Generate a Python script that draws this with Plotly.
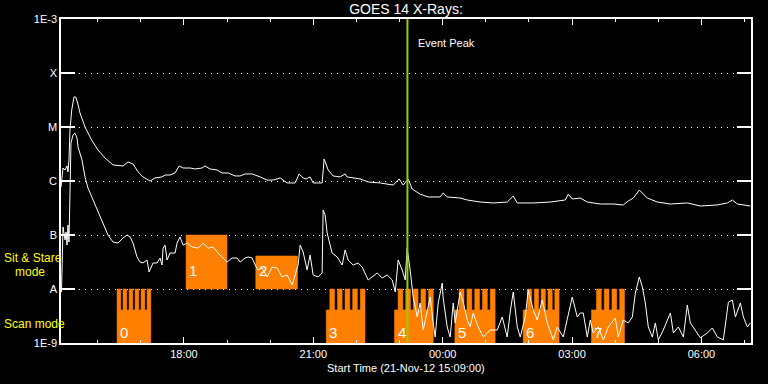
import numpy as np
import pandas as pd
import plotly.graph_objects as go

START = pd.Timestamp("2012-11-21 15:09:00")
DURATION_MIN = 960

# ---- GOES long channel (1-8 A): minutes since start, flux W/m^2
long_min = [0, 1.4, 2.8, 5.6, 8.4, 9.7, 11.1, 12.5, 14.9, 18.1, 20.5, 23.2, 26.4, 33.4, 42.7, 51.5,
            61.2, 72.4, 86.3, 93.3, 100.2, 107.2, 114.1, 123.9, 130.8, 140.6, 144.8, 151.7, 158.7,
            164.3, 169.8, 179.6, 186.5, 196.3, 200.4, 207.4, 217.2, 224.1, 232.5, 242.2, 249.2,
            256.1, 265.9, 277, 286.8, 295.1, 304.9, 314.6, 325.7, 331.3, 336.9, 341, 346.6, 350.8,
            363.3, 366.1, 371.7, 378.6, 388.4, 395.3, 398.1, 416.2, 427.4, 444.1, 462.2, 470.5,
            476.1, 483, 488.6, 499.7, 510.9, 527.6, 531.7, 537.3, 555.4, 565.2, 583.2, 601.3,
            620.8, 629.2, 634.8, 657, 680.7, 701.6, 705.8, 711.3, 722.5, 732.2, 750.3, 768.4,
            782.3, 789.3, 796.3, 804.6, 815.7, 829.7, 847.8, 871.4, 889.5, 913.2, 927.1, 934.1,
            941, 959.1]
long_flux = [7.7e-7, 1.04e-6, 1.74e-6, 1.6e-6, 1.9e-6, 1.47e-6, 2.45e-6, 8.8e-6, 2.06e-5, 3.6e-5,
             3.6e-5, 2.78e-5, 1.82e-5, 1.0e-5, 5.7e-6, 3.75e-6, 2.67e-6, 1.98e-6, 1.9e-6, 2.25e-6,
             2.07e-6, 1.47e-6, 1.19e-6, 1.0e-6, 1.14e-6, 1.19e-6, 1.29e-6, 1.29e-6, 1.41e-6, 1.9e-6,
             1.74e-6, 1.74e-6, 1.67e-6, 1.74e-6, 1.9e-6, 1.67e-6, 1.6e-6, 1.41e-6, 1.41e-6, 1.24e-6,
             1.24e-6, 1.35e-6, 1.35e-6, 1.19e-6, 1.04e-6, 1.04e-6, 1.14e-6, 9.2e-7, 9.2e-7, 1.35e-6,
             1.14e-6, 1.09e-6, 1.19e-6, 9.2e-7, 9.2e-7, 2.55e-6, 1.6e-6, 1.24e-6, 1.19e-6, 1.35e-6,
             1.19e-6, 1.09e-6, 9.6e-7, 9.2e-7, 8.4e-7, 1.09e-6, 8.4e-7, 1.09e-6, 7.1e-7, 5.7e-7,
             5.06e-7, 5.06e-7, 6.0e-7, 5.06e-7, 4.84e-7, 4.45e-7, 4.08e-7, 3.92e-7, 4.08e-7, 5.27e-7,
             3.92e-7, 3.92e-7, 4.08e-7, 4.45e-7, 5.7e-7, 4.64e-7, 4.84e-7, 4.08e-7, 3.75e-7, 3.75e-7,
             3.6e-7, 4.27e-7, 4.84e-7, 6.8e-7, 4.84e-7, 4.08e-7, 3.75e-7, 3.92e-7, 3.44e-7, 3.6e-7,
             3.92e-7, 4.45e-7, 3.75e-7, 3.44e-7]

# ---- GOES short channel (0.5-4 A)
short_min = [0.7, 1.4, 2.8, 5.6, 7.0, 8.4, 9.7, 11.1, 12.5, 13.9, 16.7, 19.5, 22.3, 23.7, 29.2,
             33.4, 37.6, 44.5, 51.5, 58.5, 65.4, 72.4, 79.3, 86.3, 91.9, 96.1, 100.2, 105.8, 110,
             114.1, 119.7, 122.5, 128.1, 133.6, 137.8, 140.6, 142, 144.8, 147.6, 151.7, 158.7,
             161.5, 165.6, 169.8, 175.4, 182.4, 190.7, 197.7, 204.6, 211.6, 217.2, 224.1, 231.1,
             238, 245, 249.2, 256.1, 260.3, 265.9, 270.1, 274.2, 279.8, 286.8, 293.7, 300.7, 307.6,
             314.6, 321.6, 325.7, 329.9, 332.7, 336.9, 342.4, 346.6, 350.8, 357.8, 363.3, 364.7,
             367.5, 370.3, 377.2, 384.2, 391.2, 395.3, 399.5, 406.5, 413.4, 419, 427.4, 432.9,
             439.9, 446.9, 453.8, 460.8, 465, 469.1, 474.7, 478.9, 481.6, 485.8, 490, 495.6, 499.7,
             503.9, 509.5, 513.7, 517.8, 520.6, 524.8, 530.4, 531.7, 537.3, 541.5, 545.7, 548.4,
             555.4, 559.6, 565.2, 569.3, 573.5, 580.5, 587.5, 597.2, 606.9, 613.9, 620.8, 625,
             629.2, 634.8, 639, 645.9, 650.1, 657, 662.6, 669.6, 676.5, 684.9, 690.4, 698.8, 705.8,
             711.3, 718.3, 722.5, 726.6, 732.2, 736.4, 740.5, 747.5, 754.5, 761.5, 771.2, 775.4,
             782.3, 789.3, 794.9, 799.1, 804.6, 808.8, 813, 817.1, 822.7, 826.9, 831.1, 838, 847.8,
             852, 858.9, 865.9, 871.4, 875.6, 882.5, 889.5, 899.3, 906.2, 913.2, 921.5, 928.5,
             934.1, 938.3, 945.2, 949.4, 955, 959.1]
short_flux = [8.8e-9, 5.3e-8, 1.41e-7, 8.1e-8, 1.14e-7, 6.5e-8, 1.53e-7, 7.4e-8, 7.7e-7, 5.06e-6,
              7.1e-6, 7.7e-6, 6.25e-6, 4.27e-6, 2.45e-6, 1.19e-6, 7.4e-7, 4.45e-7, 2.67e-7, 1.67e-7,
              1.0e-7, 7.4e-8, 7.1e-8, 8.8e-8, 1.0e-7, 9.2e-8, 7.1e-8, 3.92e-8, 3.16e-8, 3.03e-8,
              3.44e-8, 2.07e-8, 3.03e-8, 3.03e-8, 3.75e-8, 2.78e-8, 5.7e-8, 6.5e-8, 3.44e-8, 4.64e-8,
              4.64e-8, 7.1e-8, 9.2e-8, 6.5e-8, 7.1e-8, 6.0e-8, 5.7e-8, 7.1e-8, 5.7e-8, 6.0e-8,
              4.84e-8, 3.92e-8, 3.16e-8, 3.75e-8, 3.75e-8, 3.16e-8, 3.75e-8, 3.92e-8, 3.75e-8,
              2.78e-8, 2.25e-8, 2.45e-8, 1.67e-8, 2.55e-8, 2.45e-8, 1.67e-8, 1.82e-8, 1.19e-8,
              1.82e-8, 2.78e-8, 6.5e-8, 4.84e-8, 2.25e-8, 4.27e-8, 1.82e-8, 1.67e-8, 1.98e-8,
              2.9e-7, 2.35e-7, 1.09e-7, 4.64e-8, 3.92e-8, 2.78e-8, 5.3e-8, 3.44e-8, 2.78e-8, 3.03e-8,
              2.55e-8, 1.47e-8, 1.67e-8, 1.98e-8, 1.6e-8, 1.82e-8, 1.47e-8, 8.8e-9, 3.44e-8,
              2.25e-8, 1.47e-8, 5.7e-8, 2.25e-8, 7.1e-9, 3.03e-9, 5.5e-9, 1.74e-9, 4.08e-9, 7.1e-9,
              2.35e-9, 1.29e-9, 5.5e-9, 1.29e-8, 6.8e-9, 1.98e-9, 1.29e-9, 5.5e-9, 2.35e-9, 8.8e-9,
              5.7e-9, 2.67e-9, 1.98e-9, 3.6e-9, 1.98e-9, 1.29e-9, 1.74e-9, 1.74e-9, 3.03e-9,
              1.29e-9, 3.75e-9, 8.8e-9, 1.98e-9, 1.29e-9, 3.03e-9, 9.6e-9, 4.08e-9, 2.67e-9,
              6.25e-9, 2.35e-9, 1.14e-9, 1.98e-9, 1.29e-9, 3.6e-9, 7.1e-9, 3.03e-9, 3.6e-9, 3.6e-9,
              1.29e-9, 2.67e-9, 1.53e-9, 1.98e-9, 1.14e-9, 1.98e-9, 2.9e-9, 1.29e-9, 2.67e-9,
              2.35e-9, 3.03e-9, 8.4e-9, 1.67e-8, 1.09e-8, 5.5e-9, 1.98e-9, 1.29e-9, 2.35e-9,
              1.14e-9, 1.74e-9, 3.6e-9, 1.53e-9, 1.98e-9, 1.29e-9, 5.06e-9, 2.35e-9, 1.74e-9,
              1.25e-9, 1.53e-9, 1.9e-9, 1.29e-9, 1.14e-9, 5.7e-9, 6.25e-9, 3.03e-9, 5.5e-9, 3.03e-9,
              1.98e-9, 2.35e-9]

# ---- Observation blocks (minutes since start)
scan_labels = ["0", "3", "4", "5", "6", "7"]
scan_start = [78, 369, 464, 548, 643, 738]
scan_teeth_start = [78, 374, 469, 554, 649, 745]
scan_end = [125, 423, 518, 604, 693, 784]
scan_teeth = [6, 5, 5, 5, 5, 4]

stare_labels = ["1", "2"]
stare_start = [174, 271]
stare_end = [231, 329]
stare_top = [1e-7, 4.1e-8]

event_peak_min = 482

y_tickvals = [1e-9, 1e-8, 1e-7, 1e-6, 1e-5, 1e-4, 1e-3]
y_ticktext = ["1E-9", "A", "B", "C", "M", "X", "1E-3"]

# levels used by the mode bands
SCAN_BOTTOM, SCAN_MID, SCAN_TOP = 1e-9, 4.1e-9, 1e-8
STARE_BOTTOM = 1e-8


def t(m):
    return (START + pd.to_timedelta(m, unit="min")).strftime("%Y-%m-%d %H:%M:%S")


ORANGE = "#ff8000"
FONT = "Liberation Sans"

rx, ry = [], []


def add_rect(m0, m1, y0, y1):
    rx.extend([t(m0), t(m1), t(m1), t(m0), t(m0), None])
    ry.extend([y0, y0, y1, y1, y0, None])


for s, ts, e, n in zip(scan_start, scan_teeth_start, scan_end, scan_teeth):
    ratio = 0.6
    w = (e - ts) / (n + ratio * (n - 1))
    add_rect(s, e, SCAN_BOTTOM, SCAN_MID)
    for i in range(n):
        a = ts + i * w * (1 + ratio)
        add_rect(a, a + w, SCAN_MID, SCAN_TOP)

for s, e, top in zip(stare_start, stare_end, stare_top):
    add_rect(s, e, STARE_BOTTOM, top)

fig = go.Figure()
fig.add_trace(go.Scatter(x=rx, y=ry, mode="lines", fill="toself", fillcolor=ORANGE,
                         line=dict(width=0.5, color=ORANGE), hoverinfo="skip", showlegend=False))
fig.add_trace(go.Scatter(x=[t(m) for m in long_min], y=long_flux, mode="lines",
                         line=dict(color="white", width=1), showlegend=False))
fig.add_trace(go.Scatter(x=[t(m) for m in short_min], y=short_flux, mode="lines",
                         line=dict(color="white", width=1), showlegend=False))

fig.add_shape(type="line", xref="x", yref="paper", x0=t(event_peak_min), x1=t(event_peak_min),
              y0=0, y1=1, line=dict(color="#99cc00", width=2), layer="above")

ann = []
for lab, s in zip(scan_labels, scan_start):
    ann.append(dict(x=t(s), y=-8.8, xref="x", yref="y", text=lab, showarrow=False,
                    xanchor="left", yanchor="middle", xshift=1,
                    font=dict(family=FONT, size=15, color="white")))
for lab, s in zip(stare_labels, stare_start):
    ann.append(dict(x=t(s), y=-7.65, xref="x", yref="y", text=lab, showarrow=False,
                    xanchor="left", yanchor="middle", xshift=1,
                    font=dict(family=FONT, size=15, color="white")))
ann.append(dict(x=t(event_peak_min), y=0.926, xref="x", yref="paper", text="Event Peak",
                showarrow=False, xanchor="left", yanchor="middle", xshift=9,
                font=dict(family=FONT, size=11, color="white")))
ann.append(dict(x=-0.0855, y=0.262, xref="paper", yref="paper", text="Sit & Stare",
                showarrow=False, xanchor="left", yanchor="middle",
                font=dict(family=FONT, size=12, color="#ffff00")))
ann.append(dict(x=-0.0696, y=0.219, xref="paper", yref="paper", text="mode",
                showarrow=False, xanchor="left", yanchor="middle",
                font=dict(family=FONT, size=12, color="#ffff00")))
ann.append(dict(x=-0.0855, y=0.0586, xref="paper", yref="paper", text="Scan mode",
                showarrow=False, xanchor="left", yanchor="middle",
                font=dict(family=FONT, size=12, color="#ffff00")))
ann.append(dict(x=0.5, y=-0.077, xref="paper", yref="paper",
                text="Start Time (21-Nov-12 15:09:00)", showarrow=False,
                xanchor="center", yanchor="middle",
                font=dict(family=FONT, size=11, color="white")))

fig.update_layout(
    width=768, height=384,
    margin=dict(l=61, r=17, t=19, b=41, autoexpand=False),
    paper_bgcolor="black", plot_bgcolor="black",
    font=dict(family=FONT, size=11, color="white"),
    title=dict(text="GOES 14 X-Rays:", x=0.5, xref="paper", y=1 - 9 / 384, yref="container",
               xanchor="center", yanchor="middle", font=dict(family=FONT, size=14, color="white")),
    annotations=ann,
    showlegend=False,
    hovermode=False,
)
fig.update_xaxes(
    type="date", range=[t(0), t(DURATION_MIN)], automargin=False,
    showline=True, linecolor="white", linewidth=1.5, mirror="ticks",
    ticks="inside", ticklen=6, tickwidth=1, tickcolor="white",
    dtick=3 * 3600 * 1000, tick0="2012-11-21 18:00:00", tickformat="%H:%M",
    minor=dict(ticks="inside", ticklen=3, tickcolor="white", dtick=3600 * 1000,
               tick0="2012-11-21 18:00:00", showgrid=False),
    showgrid=False, zeroline=False,
    tickfont=dict(family=FONT, size=11, color="white"),
)
fig.update_yaxes(
    type="log", range=[-9, -3], automargin=False,
    tickvals=y_tickvals, ticktext=y_ticktext,
    showline=True, linecolor="white", linewidth=1.5, mirror="ticks",
    ticks="inside", ticklen=14, tickwidth=1.5, tickcolor="white",
    showgrid=True, gridcolor="white", gridwidth=1, griddash="1px,5px",
    zeroline=False,
    tickfont=dict(family=FONT, size=11, color="white"),
)

fig.write_html("out.html", config={"displayModeBar": False},
               post_script="document.body.style.margin='0px';document.body.style.background='black';")
